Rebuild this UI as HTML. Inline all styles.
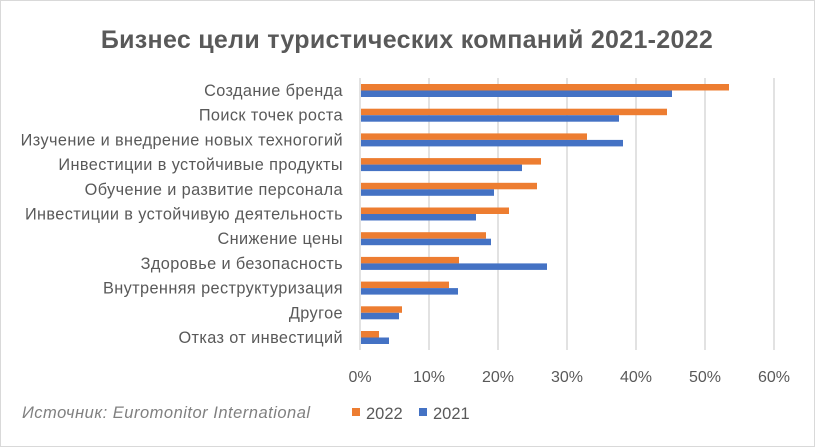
<!DOCTYPE html>
<html><head><meta charset="utf-8"><style>
body{margin:0;background:#fff}
svg{display:block;font-family:"Liberation Sans",sans-serif}
</style></head><body>
<svg width="815" height="447" xmlns="http://www.w3.org/2000/svg">
<rect x="0.5" y="0.5" width="814" height="446" fill="#fff" stroke="#d9d9d9"/>
<text x="407" y="48" text-anchor="middle" font-size="25" font-weight="bold" fill="#595959" letter-spacing="0.3">Бизнес цели туристических компаний 2021-2022</text>
<g stroke="#d9d9d9" stroke-width="1.5">
<line x1="360" y1="78" x2="360" y2="350"/><line x1="429" y1="78" x2="429" y2="350"/>
<line x1="498" y1="78" x2="498" y2="350"/><line x1="567" y1="78" x2="567" y2="350"/>
<line x1="636" y1="78" x2="636" y2="350"/><line x1="705" y1="78" x2="705" y2="350"/>
<line x1="774" y1="78" x2="774" y2="350"/>
</g>
<g font-size="16" fill="#595959" text-anchor="middle">
<text x="360" y="382">0%</text><text x="429" y="382">10%</text><text x="498" y="382">20%</text>
<text x="567" y="382">30%</text><text x="636" y="382">40%</text><text x="705" y="382">50%</text><text x="774" y="382">60%</text>
</g>
<g id="bars"></g>
<g font-size="16.3" fill="#595959" text-anchor="end" letter-spacing="0.4" id="labels"></g>
<text x="22" y="418" font-size="16.5" font-style="italic" fill="#808080" letter-spacing="0.5">Источник: Euromonitor International</text>
<rect x="352" y="408" width="8" height="8" fill="#ED7D31"/><text x="366" y="419" font-size="16.5" fill="#595959">2022</text>
<rect x="419" y="408" width="8" height="8" fill="#4472C4"/><text x="433" y="419" font-size="16.5" fill="#595959">2021</text>
<script>
var d=[["Создание бренда",729,672],["Поиск точек роста",667,619],["Изучение и внедрение новых техногогий",587,623],["Инвестиции в устойчивые продукты",541,522],["Обучение и развитие персонала",537,494],["Инвестиции в устойчивую деятельность",509,476],["Снижение цены",486,491],["Здоровье и безопасность",459,547],["Внутренняя реструктуризация",449,458],["Другое",402,399],["Отказ от инвестиций",379,389]];
var ns="http://www.w3.org/2000/svg",b=document.getElementById("bars"),l=document.getElementById("labels");
d.forEach(function(r,i){var y=84+i*24.7;
var o=document.createElementNS(ns,"rect");o.setAttribute("x",361);o.setAttribute("y",y);o.setAttribute("width",r[1]-361);o.setAttribute("height",6.5);o.setAttribute("fill","#ED7D31");b.appendChild(o);
var q=document.createElementNS(ns,"rect");q.setAttribute("x",361);q.setAttribute("y",y+6.5);q.setAttribute("width",r[2]-361);q.setAttribute("height",6.5);q.setAttribute("fill","#4472C4");b.appendChild(q);
var t=document.createElementNS(ns,"text");t.setAttribute("x",343);t.setAttribute("y",y+12);t.textContent=r[0];l.appendChild(t);});
</script>
</svg>
</body></html>
